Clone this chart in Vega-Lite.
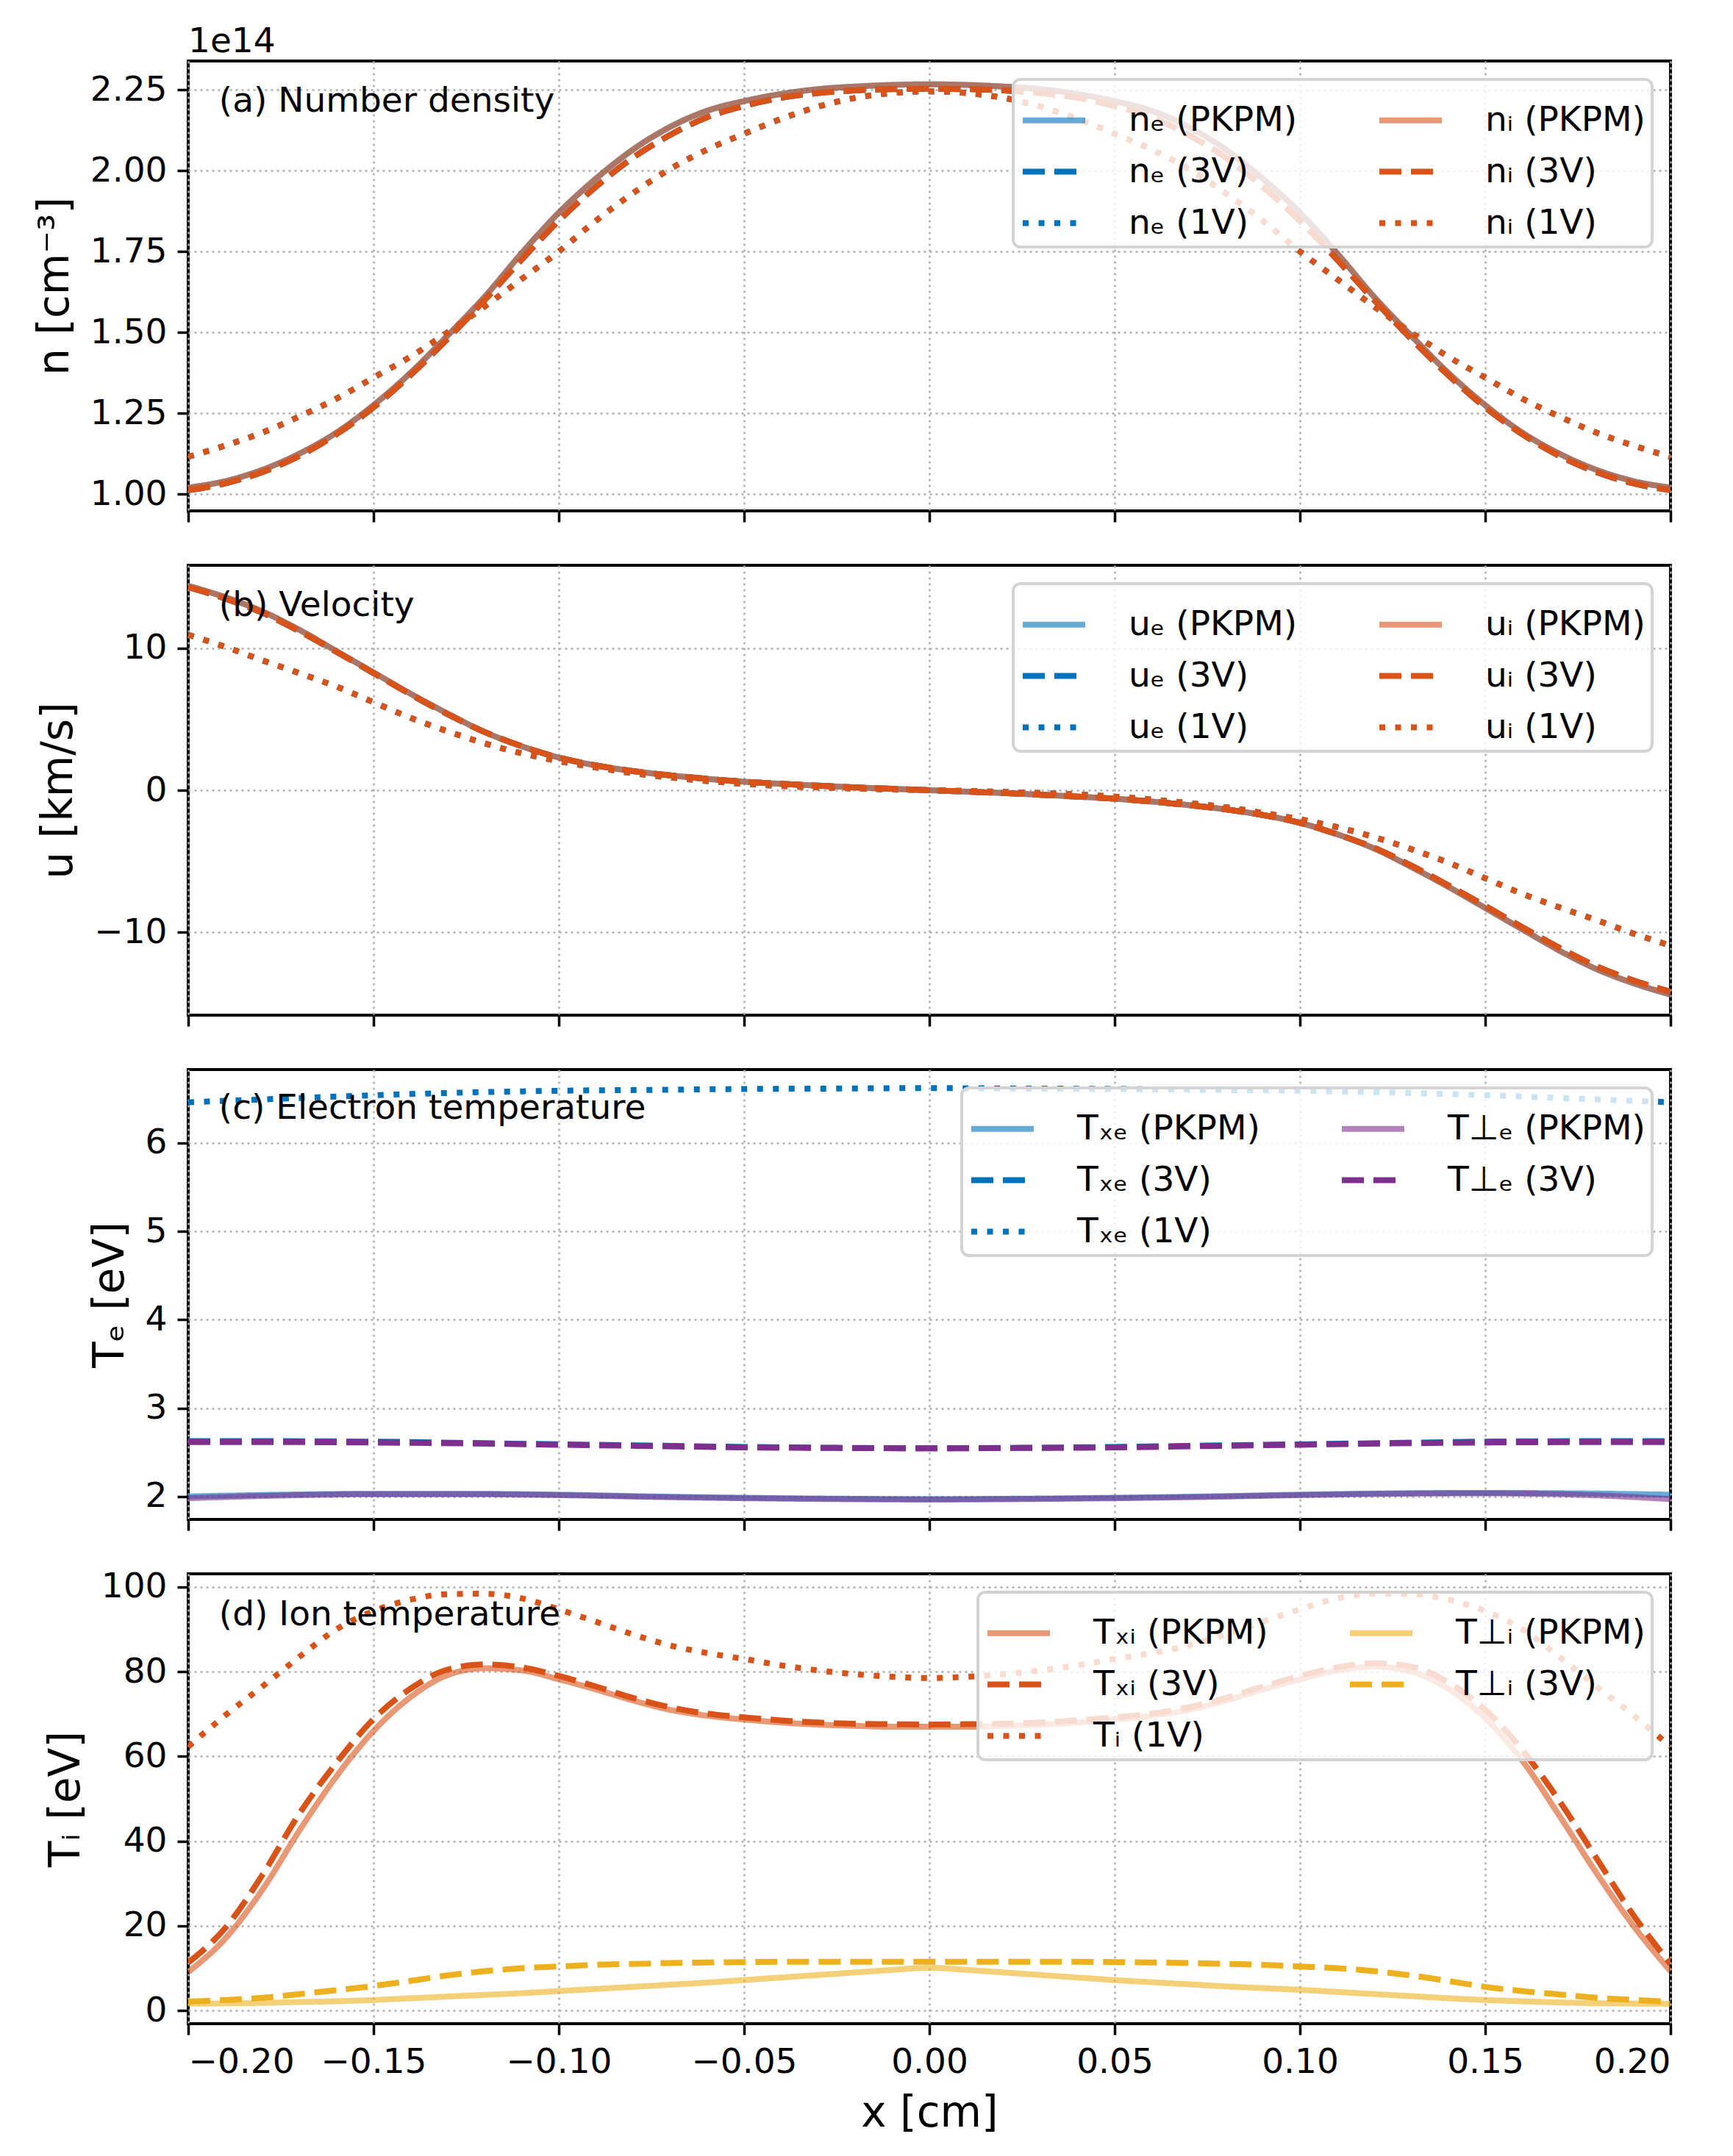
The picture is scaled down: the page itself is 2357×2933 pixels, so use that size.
{
"$schema": "https://vega.github.io/schema/vega-lite/v6.json",
"background": "white",
"padding": {"left": 44, "top": 31, "right": 20, "bottom": 20},
"config": {
 "font": "DejaVu Sans",
 "view": {"stroke": "black", "strokeWidth": 4},
 "axis": {"domain": false, "tickColor": "black", "tickSize": 15, "tickWidth": 3.5, "labelFontSize": 47, "labelColor": "black", "labelFont": "DejaVu Sans", "titleFont": "DejaVu Sans", "titleFontSize": 58, "titleFontWeight": "normal", "titleColor": "black", "grid": true, "gridColor": "#b0b0b0", "gridDash": [3, 5], "gridWidth": 2.5, "labelPadding": 14, "titlePadding": 18},
 "legend": {"orient": "top-right", "offset": 25, "columns": 2, "symbolType": "stroke", "symbolSize": 7225, "symbolStrokeWidth": 8, "labelFontSize": 47, "labelFont": "DejaVu Sans", "labelColor": "black", "labelOffset": 55, "columnPadding": 95, "rowPadding": -6, "padding": 9, "fillColor": "rgba(255,255,255,0.8)", "strokeColor": "#d3d3d3", "strokeWidth": 4, "cornerRadius": 10, "labelLimit": 800}
},
"datasets": {
 "a": [
{"s":"nₑ (PKPM)","x":-0.2,"y":1.02},{"s":"nₑ (PKPM)","x":-0.19,"y":1.04},{"s":"nₑ (PKPM)","x":-0.18,"y":1.075},{"s":"nₑ (PKPM)","x":-0.17,"y":1.125},{"s":"nₑ (PKPM)","x":-0.16,"y":1.19},{"s":"nₑ (PKPM)","x":-0.15,"y":1.275},{"s":"nₑ (PKPM)","x":-0.14,"y":1.375},{"s":"nₑ (PKPM)","x":-0.13,"y":1.49},{"s":"nₑ (PKPM)","x":-0.12,"y":1.61},{"s":"nₑ (PKPM)","x":-0.11,"y":1.745},{"s":"nₑ (PKPM)","x":-0.1,"y":1.87},{"s":"nₑ (PKPM)","x":-0.09,"y":1.975},{"s":"nₑ (PKPM)","x":-0.08,"y":2.065},{"s":"nₑ (PKPM)","x":-0.07,"y":2.135},{"s":"nₑ (PKPM)","x":-0.06,"y":2.185},{"s":"nₑ (PKPM)","x":-0.05,"y":2.215},{"s":"nₑ (PKPM)","x":-0.04,"y":2.237},{"s":"nₑ (PKPM)","x":-0.03,"y":2.252},{"s":"nₑ (PKPM)","x":-0.02,"y":2.26},{"s":"nₑ (PKPM)","x":-0.01,"y":2.265},{"s":"nₑ (PKPM)","x":0,"y":2.267},{"s":"nₑ (PKPM)","x":0.01,"y":2.265},{"s":"nₑ (PKPM)","x":0.02,"y":2.26},{"s":"nₑ (PKPM)","x":0.03,"y":2.252},{"s":"nₑ (PKPM)","x":0.04,"y":2.237},{"s":"nₑ (PKPM)","x":0.05,"y":2.215},{"s":"nₑ (PKPM)","x":0.06,"y":2.185},{"s":"nₑ (PKPM)","x":0.07,"y":2.135},{"s":"nₑ (PKPM)","x":0.08,"y":2.065},{"s":"nₑ (PKPM)","x":0.09,"y":1.975},{"s":"nₑ (PKPM)","x":0.1,"y":1.87},{"s":"nₑ (PKPM)","x":0.11,"y":1.745},{"s":"nₑ (PKPM)","x":0.12,"y":1.61},{"s":"nₑ (PKPM)","x":0.13,"y":1.49},{"s":"nₑ (PKPM)","x":0.14,"y":1.375},{"s":"nₑ (PKPM)","x":0.15,"y":1.275},{"s":"nₑ (PKPM)","x":0.16,"y":1.19},{"s":"nₑ (PKPM)","x":0.17,"y":1.125},{"s":"nₑ (PKPM)","x":0.18,"y":1.075},{"s":"nₑ (PKPM)","x":0.19,"y":1.04},{"s":"nₑ (PKPM)","x":0.2,"y":1.02},
{"s":"nₑ (3V)","x":-0.2,"y":1.012},{"s":"nₑ (3V)","x":-0.19,"y":1.033},{"s":"nₑ (3V)","x":-0.18,"y":1.068},{"s":"nₑ (3V)","x":-0.17,"y":1.118},{"s":"nₑ (3V)","x":-0.16,"y":1.185},{"s":"nₑ (3V)","x":-0.15,"y":1.268},{"s":"nₑ (3V)","x":-0.14,"y":1.368},{"s":"nₑ (3V)","x":-0.13,"y":1.48},{"s":"nₑ (3V)","x":-0.12,"y":1.6},{"s":"nₑ (3V)","x":-0.11,"y":1.725},{"s":"nₑ (3V)","x":-0.1,"y":1.845},{"s":"nₑ (3V)","x":-0.09,"y":1.95},{"s":"nₑ (3V)","x":-0.08,"y":2.04},{"s":"nₑ (3V)","x":-0.07,"y":2.11},{"s":"nₑ (3V)","x":-0.06,"y":2.165},{"s":"nₑ (3V)","x":-0.05,"y":2.2},{"s":"nₑ (3V)","x":-0.04,"y":2.225},{"s":"nₑ (3V)","x":-0.03,"y":2.24},{"s":"nₑ (3V)","x":-0.02,"y":2.248},{"s":"nₑ (3V)","x":-0.01,"y":2.252},{"s":"nₑ (3V)","x":0,"y":2.253},{"s":"nₑ (3V)","x":0.01,"y":2.252},{"s":"nₑ (3V)","x":0.02,"y":2.248},{"s":"nₑ (3V)","x":0.03,"y":2.24},{"s":"nₑ (3V)","x":0.04,"y":2.225},{"s":"nₑ (3V)","x":0.05,"y":2.2},{"s":"nₑ (3V)","x":0.06,"y":2.165},{"s":"nₑ (3V)","x":0.07,"y":2.11},{"s":"nₑ (3V)","x":0.08,"y":2.04},{"s":"nₑ (3V)","x":0.09,"y":1.95},{"s":"nₑ (3V)","x":0.1,"y":1.845},{"s":"nₑ (3V)","x":0.11,"y":1.725},{"s":"nₑ (3V)","x":0.12,"y":1.6},{"s":"nₑ (3V)","x":0.13,"y":1.48},{"s":"nₑ (3V)","x":0.14,"y":1.368},{"s":"nₑ (3V)","x":0.15,"y":1.268},{"s":"nₑ (3V)","x":0.16,"y":1.185},{"s":"nₑ (3V)","x":0.17,"y":1.118},{"s":"nₑ (3V)","x":0.18,"y":1.068},{"s":"nₑ (3V)","x":0.19,"y":1.033},{"s":"nₑ (3V)","x":0.2,"y":1.012},
{"s":"nₑ (1V)","x":-0.2,"y":1.115},{"s":"nₑ (1V)","x":-0.19,"y":1.15},{"s":"nₑ (1V)","x":-0.18,"y":1.19},{"s":"nₑ (1V)","x":-0.17,"y":1.24},{"s":"nₑ (1V)","x":-0.16,"y":1.295},{"s":"nₑ (1V)","x":-0.15,"y":1.36},{"s":"nₑ (1V)","x":-0.14,"y":1.425},{"s":"nₑ (1V)","x":-0.13,"y":1.5},{"s":"nₑ (1V)","x":-0.12,"y":1.58},{"s":"nₑ (1V)","x":-0.11,"y":1.665},{"s":"nₑ (1V)","x":-0.1,"y":1.75},{"s":"nₑ (1V)","x":-0.09,"y":1.845},{"s":"nₑ (1V)","x":-0.08,"y":1.93},{"s":"nₑ (1V)","x":-0.07,"y":2.005},{"s":"nₑ (1V)","x":-0.06,"y":2.065},{"s":"nₑ (1V)","x":-0.05,"y":2.114},{"s":"nₑ (1V)","x":-0.04,"y":2.16},{"s":"nₑ (1V)","x":-0.03,"y":2.198},{"s":"nₑ (1V)","x":-0.02,"y":2.225},{"s":"nₑ (1V)","x":-0.01,"y":2.24},{"s":"nₑ (1V)","x":0,"y":2.245},{"s":"nₑ (1V)","x":0.01,"y":2.24},{"s":"nₑ (1V)","x":0.02,"y":2.225},{"s":"nₑ (1V)","x":0.03,"y":2.198},{"s":"nₑ (1V)","x":0.04,"y":2.16},{"s":"nₑ (1V)","x":0.05,"y":2.114},{"s":"nₑ (1V)","x":0.06,"y":2.065},{"s":"nₑ (1V)","x":0.07,"y":2.005},{"s":"nₑ (1V)","x":0.08,"y":1.93},{"s":"nₑ (1V)","x":0.09,"y":1.845},{"s":"nₑ (1V)","x":0.1,"y":1.75},{"s":"nₑ (1V)","x":0.11,"y":1.665},{"s":"nₑ (1V)","x":0.12,"y":1.58},{"s":"nₑ (1V)","x":0.13,"y":1.5},{"s":"nₑ (1V)","x":0.14,"y":1.425},{"s":"nₑ (1V)","x":0.15,"y":1.36},{"s":"nₑ (1V)","x":0.16,"y":1.295},{"s":"nₑ (1V)","x":0.17,"y":1.24},{"s":"nₑ (1V)","x":0.18,"y":1.19},{"s":"nₑ (1V)","x":0.19,"y":1.15},{"s":"nₑ (1V)","x":0.2,"y":1.115},
{"s":"nᵢ (PKPM)","x":-0.2,"y":1.02},{"s":"nᵢ (PKPM)","x":-0.19,"y":1.04},{"s":"nᵢ (PKPM)","x":-0.18,"y":1.075},{"s":"nᵢ (PKPM)","x":-0.17,"y":1.125},{"s":"nᵢ (PKPM)","x":-0.16,"y":1.19},{"s":"nᵢ (PKPM)","x":-0.15,"y":1.275},{"s":"nᵢ (PKPM)","x":-0.14,"y":1.375},{"s":"nᵢ (PKPM)","x":-0.13,"y":1.49},{"s":"nᵢ (PKPM)","x":-0.12,"y":1.61},{"s":"nᵢ (PKPM)","x":-0.11,"y":1.745},{"s":"nᵢ (PKPM)","x":-0.1,"y":1.87},{"s":"nᵢ (PKPM)","x":-0.09,"y":1.975},{"s":"nᵢ (PKPM)","x":-0.08,"y":2.065},{"s":"nᵢ (PKPM)","x":-0.07,"y":2.135},{"s":"nᵢ (PKPM)","x":-0.06,"y":2.185},{"s":"nᵢ (PKPM)","x":-0.05,"y":2.215},{"s":"nᵢ (PKPM)","x":-0.04,"y":2.237},{"s":"nᵢ (PKPM)","x":-0.03,"y":2.252},{"s":"nᵢ (PKPM)","x":-0.02,"y":2.26},{"s":"nᵢ (PKPM)","x":-0.01,"y":2.265},{"s":"nᵢ (PKPM)","x":0,"y":2.267},{"s":"nᵢ (PKPM)","x":0.01,"y":2.265},{"s":"nᵢ (PKPM)","x":0.02,"y":2.26},{"s":"nᵢ (PKPM)","x":0.03,"y":2.252},{"s":"nᵢ (PKPM)","x":0.04,"y":2.237},{"s":"nᵢ (PKPM)","x":0.05,"y":2.215},{"s":"nᵢ (PKPM)","x":0.06,"y":2.185},{"s":"nᵢ (PKPM)","x":0.07,"y":2.135},{"s":"nᵢ (PKPM)","x":0.08,"y":2.065},{"s":"nᵢ (PKPM)","x":0.09,"y":1.975},{"s":"nᵢ (PKPM)","x":0.1,"y":1.87},{"s":"nᵢ (PKPM)","x":0.11,"y":1.745},{"s":"nᵢ (PKPM)","x":0.12,"y":1.61},{"s":"nᵢ (PKPM)","x":0.13,"y":1.49},{"s":"nᵢ (PKPM)","x":0.14,"y":1.375},{"s":"nᵢ (PKPM)","x":0.15,"y":1.275},{"s":"nᵢ (PKPM)","x":0.16,"y":1.19},{"s":"nᵢ (PKPM)","x":0.17,"y":1.125},{"s":"nᵢ (PKPM)","x":0.18,"y":1.075},{"s":"nᵢ (PKPM)","x":0.19,"y":1.04},{"s":"nᵢ (PKPM)","x":0.2,"y":1.02},
{"s":"nᵢ (3V)","x":-0.2,"y":1.012},{"s":"nᵢ (3V)","x":-0.19,"y":1.033},{"s":"nᵢ (3V)","x":-0.18,"y":1.068},{"s":"nᵢ (3V)","x":-0.17,"y":1.118},{"s":"nᵢ (3V)","x":-0.16,"y":1.185},{"s":"nᵢ (3V)","x":-0.15,"y":1.268},{"s":"nᵢ (3V)","x":-0.14,"y":1.368},{"s":"nᵢ (3V)","x":-0.13,"y":1.48},{"s":"nᵢ (3V)","x":-0.12,"y":1.6},{"s":"nᵢ (3V)","x":-0.11,"y":1.725},{"s":"nᵢ (3V)","x":-0.1,"y":1.845},{"s":"nᵢ (3V)","x":-0.09,"y":1.95},{"s":"nᵢ (3V)","x":-0.08,"y":2.04},{"s":"nᵢ (3V)","x":-0.07,"y":2.11},{"s":"nᵢ (3V)","x":-0.06,"y":2.165},{"s":"nᵢ (3V)","x":-0.05,"y":2.2},{"s":"nᵢ (3V)","x":-0.04,"y":2.225},{"s":"nᵢ (3V)","x":-0.03,"y":2.24},{"s":"nᵢ (3V)","x":-0.02,"y":2.248},{"s":"nᵢ (3V)","x":-0.01,"y":2.252},{"s":"nᵢ (3V)","x":0,"y":2.253},{"s":"nᵢ (3V)","x":0.01,"y":2.252},{"s":"nᵢ (3V)","x":0.02,"y":2.248},{"s":"nᵢ (3V)","x":0.03,"y":2.24},{"s":"nᵢ (3V)","x":0.04,"y":2.225},{"s":"nᵢ (3V)","x":0.05,"y":2.2},{"s":"nᵢ (3V)","x":0.06,"y":2.165},{"s":"nᵢ (3V)","x":0.07,"y":2.11},{"s":"nᵢ (3V)","x":0.08,"y":2.04},{"s":"nᵢ (3V)","x":0.09,"y":1.95},{"s":"nᵢ (3V)","x":0.1,"y":1.845},{"s":"nᵢ (3V)","x":0.11,"y":1.725},{"s":"nᵢ (3V)","x":0.12,"y":1.6},{"s":"nᵢ (3V)","x":0.13,"y":1.48},{"s":"nᵢ (3V)","x":0.14,"y":1.368},{"s":"nᵢ (3V)","x":0.15,"y":1.268},{"s":"nᵢ (3V)","x":0.16,"y":1.185},{"s":"nᵢ (3V)","x":0.17,"y":1.118},{"s":"nᵢ (3V)","x":0.18,"y":1.068},{"s":"nᵢ (3V)","x":0.19,"y":1.033},{"s":"nᵢ (3V)","x":0.2,"y":1.012},
{"s":"nᵢ (1V)","x":-0.2,"y":1.115},{"s":"nᵢ (1V)","x":-0.19,"y":1.15},{"s":"nᵢ (1V)","x":-0.18,"y":1.19},{"s":"nᵢ (1V)","x":-0.17,"y":1.24},{"s":"nᵢ (1V)","x":-0.16,"y":1.295},{"s":"nᵢ (1V)","x":-0.15,"y":1.36},{"s":"nᵢ (1V)","x":-0.14,"y":1.425},{"s":"nᵢ (1V)","x":-0.13,"y":1.5},{"s":"nᵢ (1V)","x":-0.12,"y":1.58},{"s":"nᵢ (1V)","x":-0.11,"y":1.665},{"s":"nᵢ (1V)","x":-0.1,"y":1.75},{"s":"nᵢ (1V)","x":-0.09,"y":1.845},{"s":"nᵢ (1V)","x":-0.08,"y":1.93},{"s":"nᵢ (1V)","x":-0.07,"y":2.005},{"s":"nᵢ (1V)","x":-0.06,"y":2.065},{"s":"nᵢ (1V)","x":-0.05,"y":2.114},{"s":"nᵢ (1V)","x":-0.04,"y":2.16},{"s":"nᵢ (1V)","x":-0.03,"y":2.198},{"s":"nᵢ (1V)","x":-0.02,"y":2.225},{"s":"nᵢ (1V)","x":-0.01,"y":2.24},{"s":"nᵢ (1V)","x":0,"y":2.245},{"s":"nᵢ (1V)","x":0.01,"y":2.24},{"s":"nᵢ (1V)","x":0.02,"y":2.225},{"s":"nᵢ (1V)","x":0.03,"y":2.198},{"s":"nᵢ (1V)","x":0.04,"y":2.16},{"s":"nᵢ (1V)","x":0.05,"y":2.114},{"s":"nᵢ (1V)","x":0.06,"y":2.065},{"s":"nᵢ (1V)","x":0.07,"y":2.005},{"s":"nᵢ (1V)","x":0.08,"y":1.93},{"s":"nᵢ (1V)","x":0.09,"y":1.845},{"s":"nᵢ (1V)","x":0.1,"y":1.75},{"s":"nᵢ (1V)","x":0.11,"y":1.665},{"s":"nᵢ (1V)","x":0.12,"y":1.58},{"s":"nᵢ (1V)","x":0.13,"y":1.5},{"s":"nᵢ (1V)","x":0.14,"y":1.425},{"s":"nᵢ (1V)","x":0.15,"y":1.36},{"s":"nᵢ (1V)","x":0.16,"y":1.295},{"s":"nᵢ (1V)","x":0.17,"y":1.24},{"s":"nᵢ (1V)","x":0.18,"y":1.19},{"s":"nᵢ (1V)","x":0.19,"y":1.15},{"s":"nᵢ (1V)","x":0.2,"y":1.115}
 ],
 "b": [
{"s":"uₑ (PKPM)","x":-0.2,"y":14.4},{"s":"uₑ (PKPM)","x":-0.19,"y":13.6},{"s":"uₑ (PKPM)","x":-0.18,"y":12.6},{"s":"uₑ (PKPM)","x":-0.17,"y":11.3},{"s":"uₑ (PKPM)","x":-0.16,"y":9.8},{"s":"uₑ (PKPM)","x":-0.15,"y":8.3},{"s":"uₑ (PKPM)","x":-0.14,"y":6.8},{"s":"uₑ (PKPM)","x":-0.13,"y":5.4},{"s":"uₑ (PKPM)","x":-0.12,"y":4.1},{"s":"uₑ (PKPM)","x":-0.11,"y":3.1},{"s":"uₑ (PKPM)","x":-0.1,"y":2.3},{"s":"uₑ (PKPM)","x":-0.09,"y":1.75},{"s":"uₑ (PKPM)","x":-0.08,"y":1.35},{"s":"uₑ (PKPM)","x":-0.07,"y":1.05},{"s":"uₑ (PKPM)","x":-0.06,"y":0.8},{"s":"uₑ (PKPM)","x":-0.05,"y":0.6},{"s":"uₑ (PKPM)","x":-0.04,"y":0.45},{"s":"uₑ (PKPM)","x":-0.03,"y":0.32},{"s":"uₑ (PKPM)","x":-0.02,"y":0.2},{"s":"uₑ (PKPM)","x":-0.01,"y":0.1},{"s":"uₑ (PKPM)","x":0,"y":0},{"s":"uₑ (PKPM)","x":0.01,"y":-0.1},{"s":"uₑ (PKPM)","x":0.02,"y":-0.2},{"s":"uₑ (PKPM)","x":0.03,"y":-0.32},{"s":"uₑ (PKPM)","x":0.04,"y":-0.45},{"s":"uₑ (PKPM)","x":0.05,"y":-0.6},{"s":"uₑ (PKPM)","x":0.06,"y":-0.8},{"s":"uₑ (PKPM)","x":0.07,"y":-1.05},{"s":"uₑ (PKPM)","x":0.08,"y":-1.35},{"s":"uₑ (PKPM)","x":0.09,"y":-1.75},{"s":"uₑ (PKPM)","x":0.1,"y":-2.3},{"s":"uₑ (PKPM)","x":0.11,"y":-3.1},{"s":"uₑ (PKPM)","x":0.12,"y":-4.1},{"s":"uₑ (PKPM)","x":0.13,"y":-5.4},{"s":"uₑ (PKPM)","x":0.14,"y":-6.8},{"s":"uₑ (PKPM)","x":0.15,"y":-8.3},{"s":"uₑ (PKPM)","x":0.16,"y":-9.8},{"s":"uₑ (PKPM)","x":0.17,"y":-11.3},{"s":"uₑ (PKPM)","x":0.18,"y":-12.6},{"s":"uₑ (PKPM)","x":0.19,"y":-13.6},{"s":"uₑ (PKPM)","x":0.2,"y":-14.4},
{"s":"uₑ (3V)","x":-0.2,"y":14.3},{"s":"uₑ (3V)","x":-0.19,"y":13.5},{"s":"uₑ (3V)","x":-0.18,"y":12.5},{"s":"uₑ (3V)","x":-0.17,"y":11.2},{"s":"uₑ (3V)","x":-0.16,"y":9.75},{"s":"uₑ (3V)","x":-0.15,"y":8.25},{"s":"uₑ (3V)","x":-0.14,"y":6.75},{"s":"uₑ (3V)","x":-0.13,"y":5.35},{"s":"uₑ (3V)","x":-0.12,"y":4.1},{"s":"uₑ (3V)","x":-0.11,"y":3.1},{"s":"uₑ (3V)","x":-0.1,"y":2.3},{"s":"uₑ (3V)","x":-0.09,"y":1.75},{"s":"uₑ (3V)","x":-0.08,"y":1.35},{"s":"uₑ (3V)","x":-0.07,"y":1.05},{"s":"uₑ (3V)","x":-0.06,"y":0.8},{"s":"uₑ (3V)","x":-0.05,"y":0.6},{"s":"uₑ (3V)","x":-0.04,"y":0.45},{"s":"uₑ (3V)","x":-0.03,"y":0.32},{"s":"uₑ (3V)","x":-0.02,"y":0.2},{"s":"uₑ (3V)","x":-0.01,"y":0.1},{"s":"uₑ (3V)","x":0,"y":0},{"s":"uₑ (3V)","x":0.01,"y":-0.1},{"s":"uₑ (3V)","x":0.02,"y":-0.2},{"s":"uₑ (3V)","x":0.03,"y":-0.32},{"s":"uₑ (3V)","x":0.04,"y":-0.45},{"s":"uₑ (3V)","x":0.05,"y":-0.6},{"s":"uₑ (3V)","x":0.06,"y":-0.8},{"s":"uₑ (3V)","x":0.07,"y":-1.05},{"s":"uₑ (3V)","x":0.08,"y":-1.35},{"s":"uₑ (3V)","x":0.09,"y":-1.75},{"s":"uₑ (3V)","x":0.1,"y":-2.3},{"s":"uₑ (3V)","x":0.11,"y":-3.1},{"s":"uₑ (3V)","x":0.12,"y":-4.05},{"s":"uₑ (3V)","x":0.13,"y":-5.3},{"s":"uₑ (3V)","x":0.14,"y":-6.7},{"s":"uₑ (3V)","x":0.15,"y":-8.15},{"s":"uₑ (3V)","x":0.16,"y":-9.65},{"s":"uₑ (3V)","x":0.17,"y":-11.1},{"s":"uₑ (3V)","x":0.18,"y":-12.4},{"s":"uₑ (3V)","x":0.19,"y":-13.4},{"s":"uₑ (3V)","x":0.2,"y":-14.2},
{"s":"uₑ (1V)","x":-0.2,"y":10.95},{"s":"uₑ (1V)","x":-0.19,"y":10.1},{"s":"uₑ (1V)","x":-0.18,"y":9.15},{"s":"uₑ (1V)","x":-0.17,"y":8.25},{"s":"uₑ (1V)","x":-0.16,"y":7.3},{"s":"uₑ (1V)","x":-0.15,"y":6.2},{"s":"uₑ (1V)","x":-0.14,"y":5.1},{"s":"uₑ (1V)","x":-0.13,"y":4.15},{"s":"uₑ (1V)","x":-0.12,"y":3.3},{"s":"uₑ (1V)","x":-0.11,"y":2.6},{"s":"uₑ (1V)","x":-0.1,"y":2.05},{"s":"uₑ (1V)","x":-0.09,"y":1.6},{"s":"uₑ (1V)","x":-0.08,"y":1.2},{"s":"uₑ (1V)","x":-0.07,"y":0.9},{"s":"uₑ (1V)","x":-0.06,"y":0.65},{"s":"uₑ (1V)","x":-0.05,"y":0.45},{"s":"uₑ (1V)","x":-0.04,"y":0.3},{"s":"uₑ (1V)","x":-0.03,"y":0.2},{"s":"uₑ (1V)","x":-0.02,"y":0.12},{"s":"uₑ (1V)","x":-0.01,"y":0.05},{"s":"uₑ (1V)","x":0,"y":0},{"s":"uₑ (1V)","x":0.01,"y":-0.05},{"s":"uₑ (1V)","x":0.02,"y":-0.12},{"s":"uₑ (1V)","x":0.03,"y":-0.2},{"s":"uₑ (1V)","x":0.04,"y":-0.3},{"s":"uₑ (1V)","x":0.05,"y":-0.45},{"s":"uₑ (1V)","x":0.06,"y":-0.65},{"s":"uₑ (1V)","x":0.07,"y":-0.9},{"s":"uₑ (1V)","x":0.08,"y":-1.2},{"s":"uₑ (1V)","x":0.09,"y":-1.6},{"s":"uₑ (1V)","x":0.1,"y":-2.05},{"s":"uₑ (1V)","x":0.11,"y":-2.6},{"s":"uₑ (1V)","x":0.12,"y":-3.3},{"s":"uₑ (1V)","x":0.13,"y":-4.15},{"s":"uₑ (1V)","x":0.14,"y":-5.1},{"s":"uₑ (1V)","x":0.15,"y":-6.2},{"s":"uₑ (1V)","x":0.16,"y":-7.3},{"s":"uₑ (1V)","x":0.17,"y":-8.25},{"s":"uₑ (1V)","x":0.18,"y":-9.15},{"s":"uₑ (1V)","x":0.19,"y":-10.1},{"s":"uₑ (1V)","x":0.2,"y":-10.95},
{"s":"uᵢ (PKPM)","x":-0.2,"y":14.4},{"s":"uᵢ (PKPM)","x":-0.19,"y":13.6},{"s":"uᵢ (PKPM)","x":-0.18,"y":12.6},{"s":"uᵢ (PKPM)","x":-0.17,"y":11.3},{"s":"uᵢ (PKPM)","x":-0.16,"y":9.8},{"s":"uᵢ (PKPM)","x":-0.15,"y":8.3},{"s":"uᵢ (PKPM)","x":-0.14,"y":6.8},{"s":"uᵢ (PKPM)","x":-0.13,"y":5.4},{"s":"uᵢ (PKPM)","x":-0.12,"y":4.1},{"s":"uᵢ (PKPM)","x":-0.11,"y":3.1},{"s":"uᵢ (PKPM)","x":-0.1,"y":2.3},{"s":"uᵢ (PKPM)","x":-0.09,"y":1.75},{"s":"uᵢ (PKPM)","x":-0.08,"y":1.35},{"s":"uᵢ (PKPM)","x":-0.07,"y":1.05},{"s":"uᵢ (PKPM)","x":-0.06,"y":0.8},{"s":"uᵢ (PKPM)","x":-0.05,"y":0.6},{"s":"uᵢ (PKPM)","x":-0.04,"y":0.45},{"s":"uᵢ (PKPM)","x":-0.03,"y":0.32},{"s":"uᵢ (PKPM)","x":-0.02,"y":0.2},{"s":"uᵢ (PKPM)","x":-0.01,"y":0.1},{"s":"uᵢ (PKPM)","x":0,"y":0},{"s":"uᵢ (PKPM)","x":0.01,"y":-0.1},{"s":"uᵢ (PKPM)","x":0.02,"y":-0.2},{"s":"uᵢ (PKPM)","x":0.03,"y":-0.32},{"s":"uᵢ (PKPM)","x":0.04,"y":-0.45},{"s":"uᵢ (PKPM)","x":0.05,"y":-0.6},{"s":"uᵢ (PKPM)","x":0.06,"y":-0.8},{"s":"uᵢ (PKPM)","x":0.07,"y":-1.05},{"s":"uᵢ (PKPM)","x":0.08,"y":-1.35},{"s":"uᵢ (PKPM)","x":0.09,"y":-1.75},{"s":"uᵢ (PKPM)","x":0.1,"y":-2.3},{"s":"uᵢ (PKPM)","x":0.11,"y":-3.1},{"s":"uᵢ (PKPM)","x":0.12,"y":-4.1},{"s":"uᵢ (PKPM)","x":0.13,"y":-5.4},{"s":"uᵢ (PKPM)","x":0.14,"y":-6.8},{"s":"uᵢ (PKPM)","x":0.15,"y":-8.3},{"s":"uᵢ (PKPM)","x":0.16,"y":-9.8},{"s":"uᵢ (PKPM)","x":0.17,"y":-11.3},{"s":"uᵢ (PKPM)","x":0.18,"y":-12.6},{"s":"uᵢ (PKPM)","x":0.19,"y":-13.6},{"s":"uᵢ (PKPM)","x":0.2,"y":-14.4},
{"s":"uᵢ (3V)","x":-0.2,"y":14.3},{"s":"uᵢ (3V)","x":-0.19,"y":13.5},{"s":"uᵢ (3V)","x":-0.18,"y":12.5},{"s":"uᵢ (3V)","x":-0.17,"y":11.2},{"s":"uᵢ (3V)","x":-0.16,"y":9.75},{"s":"uᵢ (3V)","x":-0.15,"y":8.25},{"s":"uᵢ (3V)","x":-0.14,"y":6.75},{"s":"uᵢ (3V)","x":-0.13,"y":5.35},{"s":"uᵢ (3V)","x":-0.12,"y":4.1},{"s":"uᵢ (3V)","x":-0.11,"y":3.1},{"s":"uᵢ (3V)","x":-0.1,"y":2.3},{"s":"uᵢ (3V)","x":-0.09,"y":1.75},{"s":"uᵢ (3V)","x":-0.08,"y":1.35},{"s":"uᵢ (3V)","x":-0.07,"y":1.05},{"s":"uᵢ (3V)","x":-0.06,"y":0.8},{"s":"uᵢ (3V)","x":-0.05,"y":0.6},{"s":"uᵢ (3V)","x":-0.04,"y":0.45},{"s":"uᵢ (3V)","x":-0.03,"y":0.32},{"s":"uᵢ (3V)","x":-0.02,"y":0.2},{"s":"uᵢ (3V)","x":-0.01,"y":0.1},{"s":"uᵢ (3V)","x":0,"y":0},{"s":"uᵢ (3V)","x":0.01,"y":-0.1},{"s":"uᵢ (3V)","x":0.02,"y":-0.2},{"s":"uᵢ (3V)","x":0.03,"y":-0.32},{"s":"uᵢ (3V)","x":0.04,"y":-0.45},{"s":"uᵢ (3V)","x":0.05,"y":-0.6},{"s":"uᵢ (3V)","x":0.06,"y":-0.8},{"s":"uᵢ (3V)","x":0.07,"y":-1.05},{"s":"uᵢ (3V)","x":0.08,"y":-1.35},{"s":"uᵢ (3V)","x":0.09,"y":-1.75},{"s":"uᵢ (3V)","x":0.1,"y":-2.3},{"s":"uᵢ (3V)","x":0.11,"y":-3.1},{"s":"uᵢ (3V)","x":0.12,"y":-4.05},{"s":"uᵢ (3V)","x":0.13,"y":-5.3},{"s":"uᵢ (3V)","x":0.14,"y":-6.7},{"s":"uᵢ (3V)","x":0.15,"y":-8.15},{"s":"uᵢ (3V)","x":0.16,"y":-9.65},{"s":"uᵢ (3V)","x":0.17,"y":-11.1},{"s":"uᵢ (3V)","x":0.18,"y":-12.4},{"s":"uᵢ (3V)","x":0.19,"y":-13.4},{"s":"uᵢ (3V)","x":0.2,"y":-14.2},
{"s":"uᵢ (1V)","x":-0.2,"y":10.95},{"s":"uᵢ (1V)","x":-0.19,"y":10.1},{"s":"uᵢ (1V)","x":-0.18,"y":9.15},{"s":"uᵢ (1V)","x":-0.17,"y":8.25},{"s":"uᵢ (1V)","x":-0.16,"y":7.3},{"s":"uᵢ (1V)","x":-0.15,"y":6.2},{"s":"uᵢ (1V)","x":-0.14,"y":5.1},{"s":"uᵢ (1V)","x":-0.13,"y":4.15},{"s":"uᵢ (1V)","x":-0.12,"y":3.3},{"s":"uᵢ (1V)","x":-0.11,"y":2.6},{"s":"uᵢ (1V)","x":-0.1,"y":2.05},{"s":"uᵢ (1V)","x":-0.09,"y":1.6},{"s":"uᵢ (1V)","x":-0.08,"y":1.2},{"s":"uᵢ (1V)","x":-0.07,"y":0.9},{"s":"uᵢ (1V)","x":-0.06,"y":0.65},{"s":"uᵢ (1V)","x":-0.05,"y":0.45},{"s":"uᵢ (1V)","x":-0.04,"y":0.3},{"s":"uᵢ (1V)","x":-0.03,"y":0.2},{"s":"uᵢ (1V)","x":-0.02,"y":0.12},{"s":"uᵢ (1V)","x":-0.01,"y":0.05},{"s":"uᵢ (1V)","x":0,"y":0},{"s":"uᵢ (1V)","x":0.01,"y":-0.05},{"s":"uᵢ (1V)","x":0.02,"y":-0.12},{"s":"uᵢ (1V)","x":0.03,"y":-0.2},{"s":"uᵢ (1V)","x":0.04,"y":-0.3},{"s":"uᵢ (1V)","x":0.05,"y":-0.45},{"s":"uᵢ (1V)","x":0.06,"y":-0.65},{"s":"uᵢ (1V)","x":0.07,"y":-0.9},{"s":"uᵢ (1V)","x":0.08,"y":-1.2},{"s":"uᵢ (1V)","x":0.09,"y":-1.6},{"s":"uᵢ (1V)","x":0.1,"y":-2.05},{"s":"uᵢ (1V)","x":0.11,"y":-2.6},{"s":"uᵢ (1V)","x":0.12,"y":-3.3},{"s":"uᵢ (1V)","x":0.13,"y":-4.15},{"s":"uᵢ (1V)","x":0.14,"y":-5.1},{"s":"uᵢ (1V)","x":0.15,"y":-6.2},{"s":"uᵢ (1V)","x":0.16,"y":-7.3},{"s":"uᵢ (1V)","x":0.17,"y":-8.25},{"s":"uᵢ (1V)","x":0.18,"y":-9.15},{"s":"uᵢ (1V)","x":0.19,"y":-10.1},{"s":"uᵢ (1V)","x":0.2,"y":-10.95}
 ],
 "c": [
{"s":"Tₓₑ (PKPM)","x":-0.2,"y":2.0},{"s":"Tₓₑ (PKPM)","x":-0.175,"y":2.02},{"s":"Tₓₑ (PKPM)","x":-0.15,"y":2.03},{"s":"Tₓₑ (PKPM)","x":-0.125,"y":2.03},{"s":"Tₓₑ (PKPM)","x":-0.1,"y":2.02},{"s":"Tₓₑ (PKPM)","x":-0.075,"y":2.0},{"s":"Tₓₑ (PKPM)","x":-0.05,"y":1.985},{"s":"Tₓₑ (PKPM)","x":-0.025,"y":1.975},{"s":"Tₓₑ (PKPM)","x":0,"y":1.97},{"s":"Tₓₑ (PKPM)","x":0.025,"y":1.975},{"s":"Tₓₑ (PKPM)","x":0.05,"y":1.985},{"s":"Tₓₑ (PKPM)","x":0.075,"y":2.0},{"s":"Tₓₑ (PKPM)","x":0.1,"y":2.02},{"s":"Tₓₑ (PKPM)","x":0.125,"y":2.035},{"s":"Tₓₑ (PKPM)","x":0.15,"y":2.04},{"s":"Tₓₑ (PKPM)","x":0.175,"y":2.035},{"s":"Tₓₑ (PKPM)","x":0.2,"y":2.02},
{"s":"Tₓₑ (3V)","x":-0.2,"y":2.625},{"s":"Tₓₑ (3V)","x":-0.175,"y":2.625},{"s":"Tₓₑ (3V)","x":-0.15,"y":2.62},{"s":"Tₓₑ (3V)","x":-0.125,"y":2.605},{"s":"Tₓₑ (3V)","x":-0.1,"y":2.59},{"s":"Tₓₑ (3V)","x":-0.075,"y":2.575},{"s":"Tₓₑ (3V)","x":-0.05,"y":2.56},{"s":"Tₓₑ (3V)","x":-0.025,"y":2.55},{"s":"Tₓₑ (3V)","x":0,"y":2.545},{"s":"Tₓₑ (3V)","x":0.025,"y":2.55},{"s":"Tₓₑ (3V)","x":0.05,"y":2.56},{"s":"Tₓₑ (3V)","x":0.075,"y":2.575},{"s":"Tₓₑ (3V)","x":0.1,"y":2.59},{"s":"Tₓₑ (3V)","x":0.125,"y":2.605},{"s":"Tₓₑ (3V)","x":0.15,"y":2.62},{"s":"Tₓₑ (3V)","x":0.175,"y":2.625},{"s":"Tₓₑ (3V)","x":0.2,"y":2.625},
{"s":"Tₓₑ (1V)","x":-0.2,"y":6.46},{"s":"Tₓₑ (1V)","x":-0.175,"y":6.5},{"s":"Tₓₑ (1V)","x":-0.15,"y":6.54},{"s":"Tₓₑ (1V)","x":-0.125,"y":6.57},{"s":"Tₓₑ (1V)","x":-0.1,"y":6.59},{"s":"Tₓₑ (1V)","x":-0.075,"y":6.6},{"s":"Tₓₑ (1V)","x":-0.05,"y":6.61},{"s":"Tₓₑ (1V)","x":-0.025,"y":6.615},{"s":"Tₓₑ (1V)","x":0,"y":6.62},{"s":"Tₓₑ (1V)","x":0.025,"y":6.615},{"s":"Tₓₑ (1V)","x":0.05,"y":6.61},{"s":"Tₓₑ (1V)","x":0.075,"y":6.6},{"s":"Tₓₑ (1V)","x":0.1,"y":6.59},{"s":"Tₓₑ (1V)","x":0.125,"y":6.57},{"s":"Tₓₑ (1V)","x":0.15,"y":6.54},{"s":"Tₓₑ (1V)","x":0.175,"y":6.5},{"s":"Tₓₑ (1V)","x":0.2,"y":6.46},
{"s":"T⊥ₑ (PKPM)","x":-0.2,"y":1.98},{"s":"T⊥ₑ (PKPM)","x":-0.175,"y":2.01},{"s":"T⊥ₑ (PKPM)","x":-0.15,"y":2.025},{"s":"T⊥ₑ (PKPM)","x":-0.125,"y":2.025},{"s":"T⊥ₑ (PKPM)","x":-0.1,"y":2.015},{"s":"T⊥ₑ (PKPM)","x":-0.075,"y":1.995},{"s":"T⊥ₑ (PKPM)","x":-0.05,"y":1.98},{"s":"T⊥ₑ (PKPM)","x":-0.025,"y":1.97},{"s":"T⊥ₑ (PKPM)","x":0,"y":1.965},{"s":"T⊥ₑ (PKPM)","x":0.025,"y":1.97},{"s":"T⊥ₑ (PKPM)","x":0.05,"y":1.98},{"s":"T⊥ₑ (PKPM)","x":0.075,"y":1.995},{"s":"T⊥ₑ (PKPM)","x":0.1,"y":2.015},{"s":"T⊥ₑ (PKPM)","x":0.125,"y":2.03},{"s":"T⊥ₑ (PKPM)","x":0.15,"y":2.035},{"s":"T⊥ₑ (PKPM)","x":0.175,"y":2.02},{"s":"T⊥ₑ (PKPM)","x":0.2,"y":1.97},
{"s":"T⊥ₑ (3V)","x":-0.2,"y":2.615},{"s":"T⊥ₑ (3V)","x":-0.175,"y":2.615},{"s":"T⊥ₑ (3V)","x":-0.15,"y":2.61},{"s":"T⊥ₑ (3V)","x":-0.125,"y":2.6},{"s":"T⊥ₑ (3V)","x":-0.1,"y":2.585},{"s":"T⊥ₑ (3V)","x":-0.075,"y":2.57},{"s":"T⊥ₑ (3V)","x":-0.05,"y":2.555},{"s":"T⊥ₑ (3V)","x":-0.025,"y":2.548},{"s":"T⊥ₑ (3V)","x":0,"y":2.545},{"s":"T⊥ₑ (3V)","x":0.025,"y":2.548},{"s":"T⊥ₑ (3V)","x":0.05,"y":2.555},{"s":"T⊥ₑ (3V)","x":0.075,"y":2.57},{"s":"T⊥ₑ (3V)","x":0.1,"y":2.585},{"s":"T⊥ₑ (3V)","x":0.125,"y":2.6},{"s":"T⊥ₑ (3V)","x":0.15,"y":2.61},{"s":"T⊥ₑ (3V)","x":0.175,"y":2.615},{"s":"T⊥ₑ (3V)","x":0.2,"y":2.615}
 ],
 "d": [
{"s":"Tₓᵢ (PKPM)","x":-0.2,"y":9.1},{"s":"Tₓᵢ (PKPM)","x":-0.19,"y":17},{"s":"Tₓᵢ (PKPM)","x":-0.18,"y":28.5},{"s":"Tₓᵢ (PKPM)","x":-0.17,"y":42.5},{"s":"Tₓᵢ (PKPM)","x":-0.16,"y":55.3},{"s":"Tₓᵢ (PKPM)","x":-0.15,"y":66},{"s":"Tₓᵢ (PKPM)","x":-0.14,"y":74},{"s":"Tₓᵢ (PKPM)","x":-0.13,"y":79.2},{"s":"Tₓᵢ (PKPM)","x":-0.12,"y":80.8},{"s":"Tₓᵢ (PKPM)","x":-0.11,"y":80.3},{"s":"Tₓᵢ (PKPM)","x":-0.1,"y":78.2},{"s":"Tₓᵢ (PKPM)","x":-0.09,"y":75.8},{"s":"Tₓᵢ (PKPM)","x":-0.08,"y":73.2},{"s":"Tₓᵢ (PKPM)","x":-0.07,"y":71},{"s":"Tₓᵢ (PKPM)","x":-0.06,"y":69.6},{"s":"Tₓᵢ (PKPM)","x":-0.05,"y":68.7},{"s":"Tₓᵢ (PKPM)","x":-0.04,"y":68},{"s":"Tₓᵢ (PKPM)","x":-0.03,"y":67.5},{"s":"Tₓᵢ (PKPM)","x":-0.02,"y":67.2},{"s":"Tₓᵢ (PKPM)","x":-0.01,"y":67},{"s":"Tₓᵢ (PKPM)","x":0,"y":67},{"s":"Tₓᵢ (PKPM)","x":0.01,"y":67},{"s":"Tₓᵢ (PKPM)","x":0.02,"y":67.2},{"s":"Tₓᵢ (PKPM)","x":0.03,"y":67.5},{"s":"Tₓᵢ (PKPM)","x":0.04,"y":68},{"s":"Tₓᵢ (PKPM)","x":0.05,"y":68.7},{"s":"Tₓᵢ (PKPM)","x":0.06,"y":69.6},{"s":"Tₓᵢ (PKPM)","x":0.07,"y":71},{"s":"Tₓᵢ (PKPM)","x":0.08,"y":73.2},{"s":"Tₓᵢ (PKPM)","x":0.09,"y":75.8},{"s":"Tₓᵢ (PKPM)","x":0.1,"y":78.2},{"s":"Tₓᵢ (PKPM)","x":0.11,"y":80.3},{"s":"Tₓᵢ (PKPM)","x":0.12,"y":81.2},{"s":"Tₓᵢ (PKPM)","x":0.13,"y":80},{"s":"Tₓᵢ (PKPM)","x":0.14,"y":76},{"s":"Tₓᵢ (PKPM)","x":0.15,"y":69},{"s":"Tₓᵢ (PKPM)","x":0.16,"y":59},{"s":"Tₓᵢ (PKPM)","x":0.17,"y":46},{"s":"Tₓᵢ (PKPM)","x":0.18,"y":32.5},{"s":"Tₓᵢ (PKPM)","x":0.19,"y":20},{"s":"Tₓᵢ (PKPM)","x":0.2,"y":9.3},
{"s":"Tₓᵢ (3V)","x":-0.2,"y":11.3},{"s":"Tₓᵢ (3V)","x":-0.19,"y":19.5},{"s":"Tₓᵢ (3V)","x":-0.18,"y":32},{"s":"Tₓᵢ (3V)","x":-0.17,"y":46.5},{"s":"Tₓᵢ (3V)","x":-0.16,"y":58.5},{"s":"Tₓᵢ (3V)","x":-0.15,"y":68.8},{"s":"Tₓᵢ (3V)","x":-0.14,"y":76},{"s":"Tₓᵢ (3V)","x":-0.13,"y":80.5},{"s":"Tₓᵢ (3V)","x":-0.12,"y":81.7},{"s":"Tₓᵢ (3V)","x":-0.11,"y":81},{"s":"Tₓᵢ (3V)","x":-0.1,"y":79},{"s":"Tₓᵢ (3V)","x":-0.09,"y":76.5},{"s":"Tₓᵢ (3V)","x":-0.08,"y":73.8},{"s":"Tₓᵢ (3V)","x":-0.07,"y":71.6},{"s":"Tₓᵢ (3V)","x":-0.06,"y":70.1},{"s":"Tₓᵢ (3V)","x":-0.05,"y":69.2},{"s":"Tₓᵢ (3V)","x":-0.04,"y":68.5},{"s":"Tₓᵢ (3V)","x":-0.03,"y":68},{"s":"Tₓᵢ (3V)","x":-0.02,"y":67.7},{"s":"Tₓᵢ (3V)","x":-0.01,"y":67.6},{"s":"Tₓᵢ (3V)","x":0,"y":67.5},{"s":"Tₓᵢ (3V)","x":0.01,"y":67.6},{"s":"Tₓᵢ (3V)","x":0.02,"y":67.7},{"s":"Tₓᵢ (3V)","x":0.03,"y":68},{"s":"Tₓᵢ (3V)","x":0.04,"y":68.5},{"s":"Tₓᵢ (3V)","x":0.05,"y":69.2},{"s":"Tₓᵢ (3V)","x":0.06,"y":70.1},{"s":"Tₓᵢ (3V)","x":0.07,"y":71.6},{"s":"Tₓᵢ (3V)","x":0.08,"y":73.8},{"s":"Tₓᵢ (3V)","x":0.09,"y":76.5},{"s":"Tₓᵢ (3V)","x":0.1,"y":79},{"s":"Tₓᵢ (3V)","x":0.11,"y":81},{"s":"Tₓᵢ (3V)","x":0.12,"y":82},{"s":"Tₓᵢ (3V)","x":0.13,"y":81.2},{"s":"Tₓᵢ (3V)","x":0.14,"y":77.5},{"s":"Tₓᵢ (3V)","x":0.15,"y":71},{"s":"Tₓᵢ (3V)","x":0.16,"y":61.5},{"s":"Tₓᵢ (3V)","x":0.17,"y":49.5},{"s":"Tₓᵢ (3V)","x":0.18,"y":36},{"s":"Tₓᵢ (3V)","x":0.19,"y":22.5},{"s":"Tₓᵢ (3V)","x":0.2,"y":11},
{"s":"Tᵢ (1V)","x":-0.2,"y":62.3},{"s":"Tᵢ (1V)","x":-0.19,"y":69.7},{"s":"Tᵢ (1V)","x":-0.18,"y":76.5},{"s":"Tᵢ (1V)","x":-0.17,"y":83.5},{"s":"Tᵢ (1V)","x":-0.16,"y":90},{"s":"Tᵢ (1V)","x":-0.15,"y":94.3},{"s":"Tᵢ (1V)","x":-0.14,"y":97},{"s":"Tᵢ (1V)","x":-0.13,"y":98.3},{"s":"Tᵢ (1V)","x":-0.12,"y":98.4},{"s":"Tᵢ (1V)","x":-0.11,"y":97.3},{"s":"Tᵢ (1V)","x":-0.1,"y":94.7},{"s":"Tᵢ (1V)","x":-0.09,"y":91.8},{"s":"Tᵢ (1V)","x":-0.08,"y":88.8},{"s":"Tᵢ (1V)","x":-0.07,"y":86.2},{"s":"Tᵢ (1V)","x":-0.06,"y":84.4},{"s":"Tᵢ (1V)","x":-0.05,"y":83},{"s":"Tᵢ (1V)","x":-0.04,"y":81.5},{"s":"Tᵢ (1V)","x":-0.03,"y":80.3},{"s":"Tᵢ (1V)","x":-0.02,"y":79.4},{"s":"Tᵢ (1V)","x":-0.01,"y":78.8},{"s":"Tᵢ (1V)","x":0,"y":78.5},{"s":"Tᵢ (1V)","x":0.01,"y":78.8},{"s":"Tᵢ (1V)","x":0.02,"y":79.4},{"s":"Tᵢ (1V)","x":0.03,"y":80.3},{"s":"Tᵢ (1V)","x":0.04,"y":81.5},{"s":"Tᵢ (1V)","x":0.05,"y":83},{"s":"Tᵢ (1V)","x":0.06,"y":84.4},{"s":"Tᵢ (1V)","x":0.07,"y":86.2},{"s":"Tᵢ (1V)","x":0.08,"y":88.8},{"s":"Tᵢ (1V)","x":0.09,"y":91.8},{"s":"Tᵢ (1V)","x":0.1,"y":94.7},{"s":"Tᵢ (1V)","x":0.11,"y":97.3},{"s":"Tᵢ (1V)","x":0.12,"y":98.4},{"s":"Tᵢ (1V)","x":0.13,"y":98.3},{"s":"Tᵢ (1V)","x":0.14,"y":97},{"s":"Tᵢ (1V)","x":0.15,"y":94.3},{"s":"Tᵢ (1V)","x":0.16,"y":90},{"s":"Tᵢ (1V)","x":0.17,"y":83.5},{"s":"Tᵢ (1V)","x":0.18,"y":76.5},{"s":"Tᵢ (1V)","x":0.19,"y":69.7},{"s":"Tᵢ (1V)","x":0.2,"y":62.3},
{"s":"T⊥ᵢ (PKPM)","x":-0.2,"y":1.6},{"s":"T⊥ᵢ (PKPM)","x":-0.19,"y":1.7},{"s":"T⊥ᵢ (PKPM)","x":-0.18,"y":1.8},{"s":"T⊥ᵢ (PKPM)","x":-0.17,"y":2},{"s":"T⊥ᵢ (PKPM)","x":-0.16,"y":2.2},{"s":"T⊥ᵢ (PKPM)","x":-0.15,"y":2.5},{"s":"T⊥ᵢ (PKPM)","x":-0.14,"y":2.9},{"s":"T⊥ᵢ (PKPM)","x":-0.13,"y":3.3},{"s":"T⊥ᵢ (PKPM)","x":-0.12,"y":3.7},{"s":"T⊥ᵢ (PKPM)","x":-0.11,"y":4.1},{"s":"T⊥ᵢ (PKPM)","x":-0.1,"y":4.6},{"s":"T⊥ᵢ (PKPM)","x":-0.09,"y":5.1},{"s":"T⊥ᵢ (PKPM)","x":-0.08,"y":5.6},{"s":"T⊥ᵢ (PKPM)","x":-0.07,"y":6.1},{"s":"T⊥ᵢ (PKPM)","x":-0.06,"y":6.6},{"s":"T⊥ᵢ (PKPM)","x":-0.05,"y":7.2},{"s":"T⊥ᵢ (PKPM)","x":-0.04,"y":7.8},{"s":"T⊥ᵢ (PKPM)","x":-0.03,"y":8.4},{"s":"T⊥ᵢ (PKPM)","x":-0.02,"y":9},{"s":"T⊥ᵢ (PKPM)","x":-0.01,"y":9.6},{"s":"T⊥ᵢ (PKPM)","x":0,"y":10.1},{"s":"T⊥ᵢ (PKPM)","x":0.01,"y":9.6},{"s":"T⊥ᵢ (PKPM)","x":0.02,"y":9},{"s":"T⊥ᵢ (PKPM)","x":0.03,"y":8.4},{"s":"T⊥ᵢ (PKPM)","x":0.04,"y":7.8},{"s":"T⊥ᵢ (PKPM)","x":0.05,"y":7.2},{"s":"T⊥ᵢ (PKPM)","x":0.06,"y":6.7},{"s":"T⊥ᵢ (PKPM)","x":0.07,"y":6.2},{"s":"T⊥ᵢ (PKPM)","x":0.08,"y":5.7},{"s":"T⊥ᵢ (PKPM)","x":0.09,"y":5.3},{"s":"T⊥ᵢ (PKPM)","x":0.1,"y":4.9},{"s":"T⊥ᵢ (PKPM)","x":0.11,"y":4.4},{"s":"T⊥ᵢ (PKPM)","x":0.12,"y":3.9},{"s":"T⊥ᵢ (PKPM)","x":0.13,"y":3.4},{"s":"T⊥ᵢ (PKPM)","x":0.14,"y":2.9},{"s":"T⊥ᵢ (PKPM)","x":0.15,"y":2.5},{"s":"T⊥ᵢ (PKPM)","x":0.16,"y":2.2},{"s":"T⊥ᵢ (PKPM)","x":0.17,"y":1.9},{"s":"T⊥ᵢ (PKPM)","x":0.18,"y":1.75},{"s":"T⊥ᵢ (PKPM)","x":0.19,"y":1.65},{"s":"T⊥ᵢ (PKPM)","x":0.2,"y":1.6},
{"s":"T⊥ᵢ (3V)","x":-0.2,"y":2.1},{"s":"T⊥ᵢ (3V)","x":-0.19,"y":2.5},{"s":"T⊥ᵢ (3V)","x":-0.18,"y":3},{"s":"T⊥ᵢ (3V)","x":-0.17,"y":3.9},{"s":"T⊥ᵢ (3V)","x":-0.16,"y":4.8},{"s":"T⊥ᵢ (3V)","x":-0.15,"y":5.8},{"s":"T⊥ᵢ (3V)","x":-0.14,"y":7},{"s":"T⊥ᵢ (3V)","x":-0.13,"y":8.3},{"s":"T⊥ᵢ (3V)","x":-0.12,"y":9.3},{"s":"T⊥ᵢ (3V)","x":-0.11,"y":10},{"s":"T⊥ᵢ (3V)","x":-0.1,"y":10.4},{"s":"T⊥ᵢ (3V)","x":-0.09,"y":10.8},{"s":"T⊥ᵢ (3V)","x":-0.08,"y":11},{"s":"T⊥ᵢ (3V)","x":-0.07,"y":11.2},{"s":"T⊥ᵢ (3V)","x":-0.06,"y":11.35},{"s":"T⊥ᵢ (3V)","x":-0.05,"y":11.45},{"s":"T⊥ᵢ (3V)","x":-0.04,"y":11.5},{"s":"T⊥ᵢ (3V)","x":-0.03,"y":11.5},{"s":"T⊥ᵢ (3V)","x":-0.02,"y":11.5},{"s":"T⊥ᵢ (3V)","x":-0.01,"y":11.5},{"s":"T⊥ᵢ (3V)","x":0,"y":11.5},{"s":"T⊥ᵢ (3V)","x":0.01,"y":11.5},{"s":"T⊥ᵢ (3V)","x":0.02,"y":11.5},{"s":"T⊥ᵢ (3V)","x":0.03,"y":11.5},{"s":"T⊥ᵢ (3V)","x":0.04,"y":11.5},{"s":"T⊥ᵢ (3V)","x":0.05,"y":11.45},{"s":"T⊥ᵢ (3V)","x":0.06,"y":11.35},{"s":"T⊥ᵢ (3V)","x":0.07,"y":11.2},{"s":"T⊥ᵢ (3V)","x":0.08,"y":11},{"s":"T⊥ᵢ (3V)","x":0.09,"y":10.8},{"s":"T⊥ᵢ (3V)","x":0.1,"y":10.4},{"s":"T⊥ᵢ (3V)","x":0.11,"y":10},{"s":"T⊥ᵢ (3V)","x":0.12,"y":9.3},{"s":"T⊥ᵢ (3V)","x":0.13,"y":8.3},{"s":"T⊥ᵢ (3V)","x":0.14,"y":7},{"s":"T⊥ᵢ (3V)","x":0.15,"y":5.6},{"s":"T⊥ᵢ (3V)","x":0.16,"y":4.6},{"s":"T⊥ᵢ (3V)","x":0.17,"y":3.8},{"s":"T⊥ᵢ (3V)","x":0.18,"y":3},{"s":"T⊥ᵢ (3V)","x":0.19,"y":2.5},{"s":"T⊥ᵢ (3V)","x":0.2,"y":2.1}
 ]
},
"vconcat": [
 {
  "width": 2016, "height": 612,
  "layer": [
   {"data": {"name": "a"},
    "mark": {"type": "line", "strokeWidth": 8, "interpolate": "monotone", "clip": true},
    "encoding": {
     "x": {"field": "x", "type": "quantitative", "scale": {"domain": [-0.2, 0.2], "nice": false, "zero": false}, "axis": {"values": [-0.2,-0.15,-0.1,-0.05,0,0.05,0.1,0.15,0.2], "labels": false, "title": null}},
     "y": {"field": "y", "type": "quantitative", "scale": {"domain": [0.948, 2.339], "nice": false, "zero": false}, "axis": {"values": [1,1.25,1.5,1.75,2,2.25], "format": ".2f", "title": "n [cm⁻³]"}},
     "color": {"field": "s", "type": "nominal", "scale": {"domain": ["nₑ (PKPM)","nₑ (3V)","nₑ (1V)","nᵢ (PKPM)","nᵢ (3V)","nᵢ (1V)"], "range": ["rgba(0,114,189,0.6)","#0072BD","#0072BD","rgba(217,83,25,0.6)","#D95319","#D95319"]}, "legend": {"title": null}},
     "strokeDash": {"field": "s", "type": "nominal", "scale": {"domain": ["nₑ (PKPM)","nₑ (3V)","nₑ (1V)","nᵢ (PKPM)","nᵢ (3V)","nᵢ (1V)"], "range": [[1,0],[30,13],[8,13.5],[1,0],[30,13],[8,13.5]]}, "legend": {"title": null}}
    }},
   {"data": {"values": [{"label": "(a) Number density"}]},
    "mark": {"type": "text", "align": "left", "baseline": "alphabetic", "fontSize": 47, "font": "DejaVu Sans", "color": "black"},
    "encoding": {"x": {"datum": -0.1917}, "y": {"datum": 2.182}, "text": {"field": "label"}}},
   {"data": {"values": [{"label": "1e14"}]},
    "mark": {"type": "text", "align": "left", "baseline": "alphabetic", "fontSize": 47, "font": "DejaVu Sans", "color": "black"},
    "encoding": {"x": {"datum": -0.2}, "y": {"datum": 2.366}, "text": {"field": "label"}}}
  ]
 },
 {
  "width": 2016, "height": 612,
  "layer": [
   {"data": {"name": "b"},
    "mark": {"type": "line", "strokeWidth": 8, "interpolate": "monotone", "clip": true},
    "encoding": {
     "x": {"field": "x", "type": "quantitative", "scale": {"domain": [-0.2, 0.2], "nice": false, "zero": false}, "axis": {"values": [-0.2,-0.15,-0.1,-0.05,0,0.05,0.1,0.15,0.2], "labels": false, "title": null}},
     "y": {"field": "y", "type": "quantitative", "scale": {"domain": [-15.85, 15.85], "nice": false, "zero": false}, "axis": {"values": [-10,0,10], "format": "d", "title": "u [km/s]"}},
     "color": {"field": "s", "type": "nominal", "scale": {"domain": ["uₑ (PKPM)","uₑ (3V)","uₑ (1V)","uᵢ (PKPM)","uᵢ (3V)","uᵢ (1V)"], "range": ["rgba(0,114,189,0.6)","#0072BD","#0072BD","rgba(217,83,25,0.6)","#D95319","#D95319"]}, "legend": {"title": null}},
     "strokeDash": {"field": "s", "type": "nominal", "scale": {"domain": ["uₑ (PKPM)","uₑ (3V)","uₑ (1V)","uᵢ (PKPM)","uᵢ (3V)","uᵢ (1V)"], "range": [[1,0],[30,13],[8,13.5],[1,0],[30,13],[8,13.5]]}, "legend": {"title": null}}
    }},
   {"data": {"values": [{"label": "(b) Velocity"}]},
    "mark": {"type": "text", "align": "left", "baseline": "alphabetic", "fontSize": 47, "font": "DejaVu Sans", "color": "black"},
    "encoding": {"x": {"datum": -0.1917}, "y": {"datum": 12.28}, "text": {"field": "label"}}}
  ]
 },
 {
  "width": 2016, "height": 612,
  "layer": [
   {"data": {"name": "c"},
    "mark": {"type": "line", "strokeWidth": 8, "interpolate": "monotone", "clip": true},
    "encoding": {
     "x": {"field": "x", "type": "quantitative", "scale": {"domain": [-0.2, 0.2], "nice": false, "zero": false}, "axis": {"values": [-0.2,-0.15,-0.1,-0.05,0,0.05,0.1,0.15,0.2], "labels": false, "title": null}},
     "y": {"field": "y", "type": "quantitative", "scale": {"domain": [1.74, 6.83], "nice": false, "zero": false}, "axis": {"values": [2,3,4,5,6], "format": "d", "title": "Tₑ [eV]"}},
     "color": {"field": "s", "type": "nominal", "scale": {"domain": ["Tₓₑ (PKPM)","Tₓₑ (3V)","Tₓₑ (1V)","T⊥ₑ (PKPM)","T⊥ₑ (3V)"], "range": ["rgba(0,114,189,0.6)","#0072BD","#0072BD","rgba(126,47,142,0.6)","#7E2F8E"]}, "legend": {"title": null}},
     "strokeDash": {"field": "s", "type": "nominal", "scale": {"domain": ["Tₓₑ (PKPM)","Tₓₑ (3V)","Tₓₑ (1V)","T⊥ₑ (PKPM)","T⊥ₑ (3V)"], "range": [[1,0],[30,13],[8,13.5],[1,0],[30,13]]}, "legend": {"title": null}}
    }},
   {"data": {"values": [{"label": "(c) Electron temperature"}]},
    "mark": {"type": "text", "align": "left", "baseline": "alphabetic", "fontSize": 47, "font": "DejaVu Sans", "color": "black"},
    "encoding": {"x": {"datum": -0.1917}, "y": {"datum": 6.27}, "text": {"field": "label"}}}
  ]
 },
 {
  "width": 2016, "height": 612,
  "layer": [
   {"data": {"name": "d"},
    "mark": {"type": "line", "strokeWidth": 8, "interpolate": "monotone", "clip": true},
    "encoding": {
     "x": {"field": "x", "type": "quantitative", "scale": {"domain": [-0.2, 0.2], "nice": false, "zero": false}, "axis": {"values": [-0.2,-0.15,-0.1,-0.05,0,0.05,0.1,0.15,0.2], "format": ".2f", "title": "x [cm]"}},
     "y": {"field": "y", "type": "quantitative", "scale": {"domain": [-3.1, 103.1], "nice": false, "zero": false}, "axis": {"values": [0,20,40,60,80,100], "format": "d", "title": "Tᵢ [eV]"}},
     "color": {"field": "s", "type": "nominal", "scale": {"domain": ["Tₓᵢ (PKPM)","Tₓᵢ (3V)","Tᵢ (1V)","T⊥ᵢ (PKPM)","T⊥ᵢ (3V)"], "range": ["rgba(217,83,25,0.6)","#D95319","#D95319","rgba(237,177,32,0.6)","#EDB120"]}, "legend": {"title": null}},
     "strokeDash": {"field": "s", "type": "nominal", "scale": {"domain": ["Tₓᵢ (PKPM)","Tₓᵢ (3V)","Tᵢ (1V)","T⊥ᵢ (PKPM)","T⊥ᵢ (3V)"], "range": [[1,0],[30,13],[8,13.5],[1,0],[30,13]]}, "legend": {"title": null}}
    }},
   {"data": {"values": [{"label": "(d) Ion temperature"}]},
    "mark": {"type": "text", "align": "left", "baseline": "alphabetic", "fontSize": 47, "font": "DejaVu Sans", "color": "black"},
    "encoding": {"x": {"datum": -0.1917}, "y": {"datum": 90.9}, "text": {"field": "label"}}}
  ]
 }
],
"spacing": 74,
"bounds": "flush",
"resolve": {"scale": {"x": "shared", "y": "independent", "color": "independent", "strokeDash": "independent"}, "axis": {"x": "independent", "y": "independent"}, "legend": {"color": "independent", "strokeDash": "independent"}}
}
